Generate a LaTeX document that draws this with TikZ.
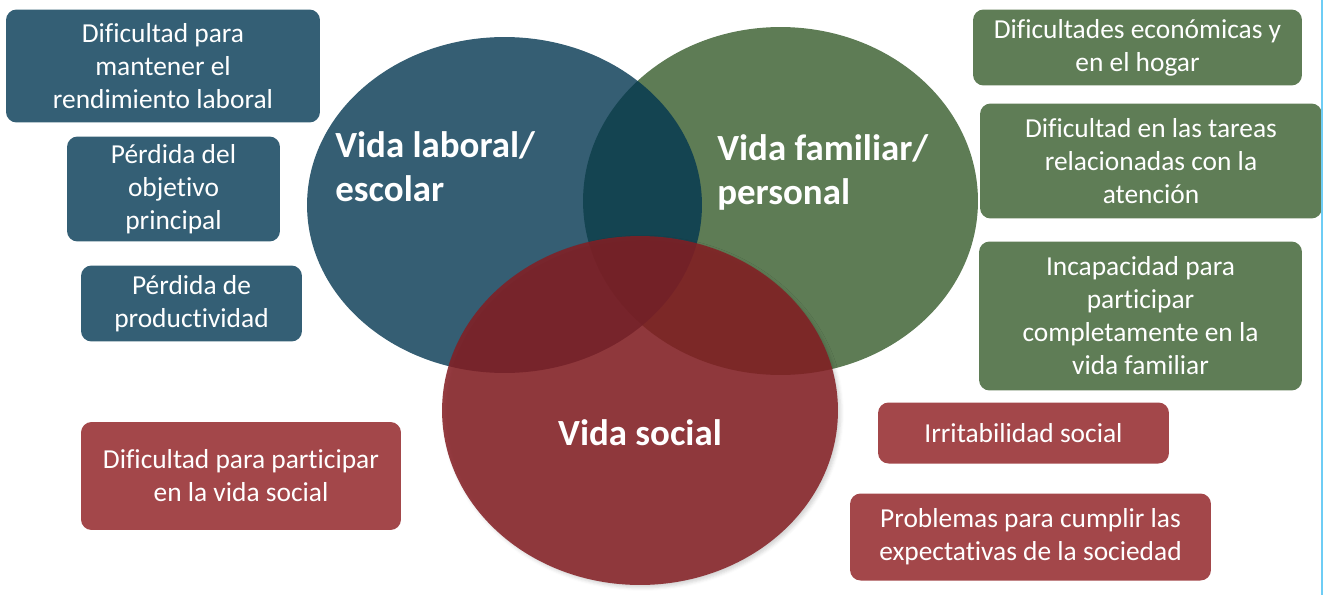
\documentclass[tikz,border=0pt]{standalone}
\usepackage{fontspec}
\setmainfont{Carlito}[Ligatures=NoCommon]
\usepackage{tikz}
\usetikzlibrary{shapes.geometric,shadows.blur}

\definecolor{azul}{RGB}{52,95,117}
\definecolor{verde}{RGB}{95,125,86}
\definecolor{rojo}{RGB}{163,71,74}
\definecolor{circazul}{RGB}{2,54,80}
\definecolor{circverde}{RGB}{94,124,85}
\definecolor{circrojo}{RGB}{132,30,35}
\definecolor{borde}{RGB}{110,205,245}

\begin{document}
\begin{tikzpicture}[x=0.02cm,y=-0.02cm,
  caja/.style={rectangle,rounded corners=6pt,inner sep=0pt,align=center,
    text=white,font=\fontsize{15.6}{18.8}\selectfont},
  titulo/.style={inner sep=0pt,text=white,
    font=\fontsize{21}{25}\selectfont\bfseries}]
\useasboundingbox (0,0) rectangle (1324,595);

% Circulos
\node [ellipse,fill=circverde,minimum width=7.90cm,minimum height=6.96cm] (familiar) at (780.5,201) {};
\node [ellipse,fill=circazul,fill opacity=0.8,minimum width=7.90cm,minimum height=6.72cm] (laboral) at (504.5,205) {};
\node [ellipse,fill=circrojo,fill opacity=0.86,minimum width=7.92cm,minimum height=6.98cm,
  blur shadow={shadow xshift=1.5pt,shadow yshift=-1.5pt,shadow opacity=20}] (social) at (640,410.5) {};

\node [titulo,anchor=north west,align=left] (tlaboral) at (335,131) {Vida laboral/\\escolar};
\node [titulo,anchor=north west,align=left] (tfamiliar) at (717,134) {Vida familiar/\\personal};
\node [titulo,anchor=base] (tsocial) at (640,445) {Vida social};

% Cajas de la izquierda
\node [caja,fill=azul,minimum width=6.28cm,minimum height=2.26cm] (rendimiento) at (163,66)
  {Dificultad para\\mantener el\\rendimiento laboral};
\node [caja,fill=azul,minimum width=4.26cm,minimum height=2.10cm] (objetivo) at (173.5,189)
  {Pérdida del\\objetivo\\principal};
\node [caja,fill=azul,minimum width=4.42cm,minimum height=1.52cm] (productividad) at (191.5,303.5)
  {Pérdida de\\productividad};
\node [caja,fill=rojo,minimum width=6.40cm,minimum height=2.16cm] (participar) at (241,476)
  {Dificultad para participar\\en la vida social};

% Cajas de la derecha
\node [caja,fill=verde,minimum width=6.58cm,minimum height=1.52cm] (hogar) at (1137.5,47.5)
  {Dificultades económicas y\\en el hogar};
\node [caja,fill=verde,minimum width=6.84cm,minimum height=2.30cm] (atencion) at (1151,161)
  {Dificultad en las tareas\\relacionadas con la\\atención};
\node [caja,fill=verde,minimum width=6.46cm,minimum height=2.98cm] (incapacidad) at (1140.5,316)
  {Incapacidad para\\participar\\completamente en la\\vida familiar};
\node [caja,fill=rojo,minimum width=5.82cm,minimum height=1.22cm] (irritabilidad) at (1023.5,433)
  {Irritabilidad social};
\node [caja,fill=rojo,minimum width=7.22cm,minimum height=1.74cm] (expectativas) at (1030.5,537)
  {Problemas para cumplir las\\expectativas de la sociedad};

\draw[borde,line width=1.4pt] (1322,0) -- (1322,595);
\end{tikzpicture}
\end{document}
